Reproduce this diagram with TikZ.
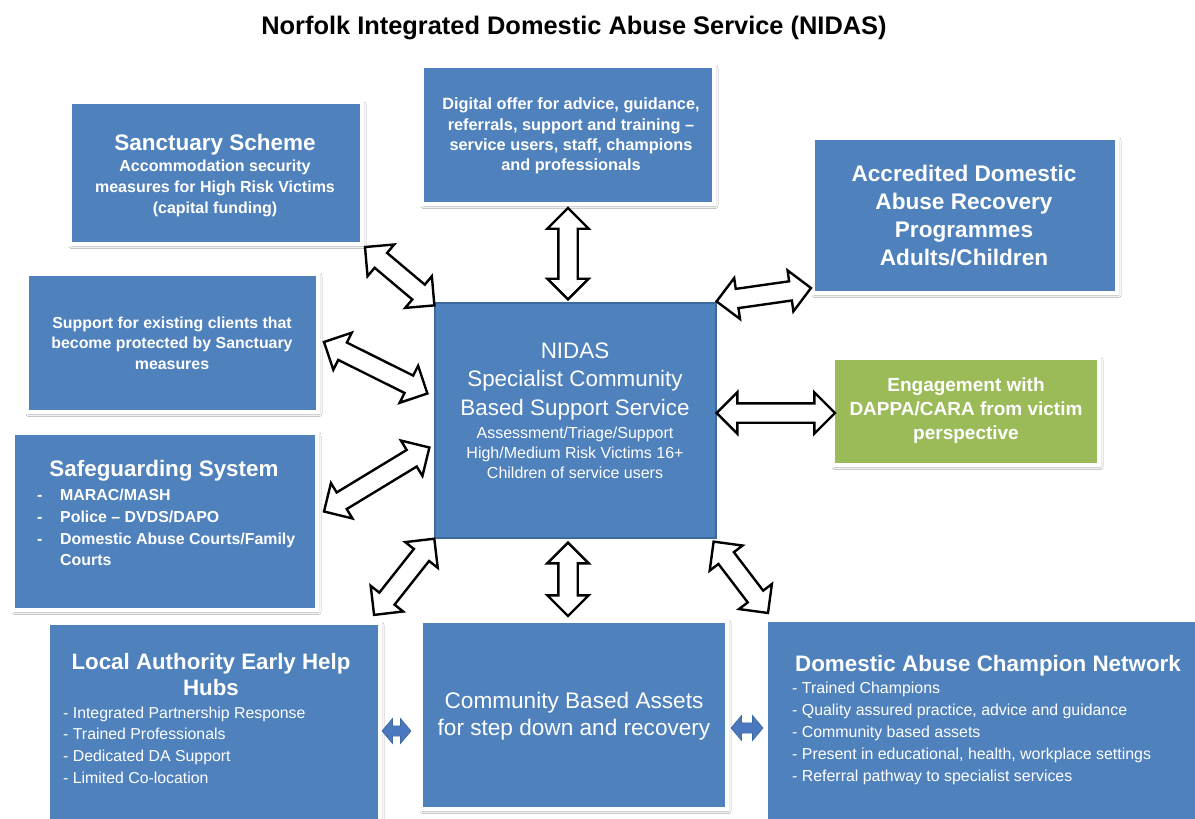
\documentclass[tikz,border=0pt]{standalone}
\usepackage{fontspec}
\setmainfont{Liberation Sans}
\usetikzlibrary{shapes.arrows,shadows.blur,calc,positioning}
\definecolor{nidasblue}{HTML}{4F81BD}
\definecolor{nidasgreen}{HTML}{9BBB59}
\definecolor{nidasedge}{HTML}{3C6A9C}
\definecolor{smallarrow}{HTML}{4A78BE}
\newcommand\fsz[2]{\fontsize{#1pt}{#2pt}\selectfont}

\begin{document}
\begin{tikzpicture}[x=1pt,y=-1pt]
\tikzstyle{panel}=[rectangle, draw=white, line width=4pt, fill=nidasblue, inner sep=0pt,
  blur shadow={shadow xshift=1.5pt, shadow yshift=-2pt, shadow blur radius=2.5pt,
  shadow blur steps=6, shadow opacity=30}]
\tikzstyle{txt}=[text=white, align=center, inner sep=0pt]
\tikzstyle{link}=[double arrow, draw=black, fill=white, line width=2.4pt, inner sep=0pt,
  inner ysep=8.5pt, double arrow head extend=11pt, double arrow tip angle=90]
\tikzstyle{small link}=[double arrow, draw=nidasedge, fill=smallarrow, line width=0.6pt,
  inner sep=0pt, inner ysep=4.5pt, double arrow head extend=7pt, double arrow tip angle=100]

\useasboundingbox (0,0) rectangle (1195,819);
\fill[white] (0,0) rectangle (1195,819);
\clip (0,0) rectangle (1195,819);

% Title
\node[inner sep=0pt, font=\bfseries\fsz{25.4}{30}] (title) at (574,28)
  {Norfolk Integrated Domestic Abuse Service (NIDAS)};

% Draw the panels (fill edges as in the picture)
\foreach \name/\xa/\ya/\xb/\yb/\col in {sanct/72/104/360/242/nidasblue,
    digital/424/68/712/202/nidasblue, accred/815/140/1115/291/nidasblue,
    support/29/276/316/410/nidasblue, engage/835/360/1097/463/nidasgreen,
    safeg/15/435/315/608/nidasblue, lahub/50/625/378/830/nidasblue,
    commun/423/623/725/807/nidasblue, champ/768/622/1210/830/nidasblue}
{
  \pgfmathsetmacro\w{\xb-\xa+4}
  \pgfmathsetmacro\h{\yb-\ya+4}
  \node[panel, fill=\col, minimum width=\w pt, minimum height=\h pt] (P-\name)
    at ({(\xa+\xb)/2},{(\ya+\yb)/2}) {};
}

% Central service
\node[rectangle, draw=nidasedge, line width=1.2pt, fill=nidasblue, inner sep=0pt,
  minimum width=281pt, minimum height=235pt] (P-nidas) at (575.5,420.5) {};

% Write panel texts
\node[txt, font=\bfseries\fsz{22.5}{24}] (T-sanct) at (215,145) {Sanctuary Scheme};
\node[txt, font=\bfseries\fsz{16}{21}] (T-sanct-b) at (215,188)
  {Accommodation security\\measures for High Risk Victims\\(capital funding)};
\node[txt, font=\bfseries\fsz{16.3}{20.3}] (T-digital) at (571,136)
  {Digital offer for advice, guidance,\\referrals, support and training --\\service users, staff, champions\\and professionals};
\node[txt, font=\bfseries\fsz{22.6}{28}] (T-accred) at (964,216)
  {Accredited Domestic\\Abuse Recovery\\Programmes\\Adults/Children};
\node[txt, font=\bfseries\fsz{15.9}{20.5}] (T-support) at (172,343)
  {Support for existing clients that\\become protected by Sanctuary\\measures};
\node[txt, font=\fsz{22.4}{28.5}] (T-nidas) at (575,381.5)
  {NIDAS\\Specialist Community\\Based Support Service};
\node[txt, font=\fsz{16}{20}] (T-nidas-b) at (575,453)
  {Assessment/Triage/Support\\High/Medium Risk Victims 16+\\Children of service users};
\node[txt, font=\bfseries\fsz{19}{24}] (T-engage) at (966,411)
  {Engagement with\\DAPPA/CARA from victim\\perspective};
\node[txt, font=\bfseries\fsz{22.4}{26}] (T-safeg) at (164,471) {Safeguarding System};
\node[txt, align=left, anchor=west, font=\bfseries\fsz{15.9}{21.7}] (T-safeg-b) at (37,527.5)
  {\makebox[23pt][l]{-}MARAC/MASH\\\makebox[23pt][l]{-}Police -- DVDS/DAPO\\
   \makebox[23pt][l]{-}Domestic Abuse Courts/Family\\\makebox[23pt][l]{}Courts};
\node[txt, font=\bfseries\fsz{22.3}{26}] (T-lahub) at (211,675)
  {Local Authority Early Help\\Hubs};
\node[txt, align=left, anchor=west, font=\fsz{15.85}{21.7}] (T-lahub-b) at (63,745)
  {- Integrated Partnership Response\\- Trained Professionals\\- Dedicated DA Support\\- Limited Co-location};
\node[txt, font=\fsz{22.6}{27}] (T-commun) at (574,716.5)
  {Community Based Assets\\for step down and recovery};
\node[txt, font=\bfseries\fsz{22.4}{26}] (T-champ) at (988,666)
  {Domestic Abuse Champion Network};
\node[txt, align=left, anchor=west, font=\fsz{15.9}{22}] (T-champ-b) at (792,733)
  {- Trained Champions\\- Quality assured practice, advice and guidance\\- Community based assets\\- Present in educational, health, workplace settings\\- Referral pathway to specialist services};

% Arrow ends, next to the panels
\coordinate (E1-a) at ($(P-digital.south)+(0,2)$);
\coordinate (E1-b) at ($(P-nidas.north)+(-7.5,-3)$);
\coordinate (E2-a) at ($(P-sanct.south east)+(1,1)$);
\coordinate (E2-b) at ($(P-nidas.north west)+(0,3)$);
\coordinate (E3-a) at ($(P-support.east)+(4,-1)$);
\coordinate (E3-b) at ($(P-nidas.west)+(-7,-27)$);
\coordinate (E4-a) at ($(P-safeg.east)+(5,-10)$);
\coordinate (E4-b) at ($(P-nidas.west)+(-5,27)$);
\coordinate (E5-a) at ($(P-nidas.north east)+(0,-1)$);
\coordinate (E5-b) at ($(P-accred.south west)+(0,-7)$);
\coordinate (E6-a) at ($(P-nidas.east)+(0,-7.5)$);
\coordinate (E6-b) at ($(P-engage.west)+(4,1.5)$);
\coordinate (E7-a) at ($(P-lahub.north east)+(-8,-6)$);
\coordinate (E7-b) at (P-nidas.south west);
\coordinate (E8-a) at ($(P-nidas.south)+(-7.5,4)$);
\coordinate (E8-b) at ($(P-commun.north)+(-6,-3)$);
\coordinate (E9-a) at ($(P-nidas.south east)+(-3,3)$);
\coordinate (E9-b) at ($(P-champ.north west)+(4,-5)$);
\coordinate (S1-a) at ($(P-lahub.east)+(0,3.5)$);
\coordinate (S1-b) at ($(P-commun.west)+(-8,16)$);
\coordinate (S2-a) at ($(P-commun.east)+(2,13)$);
\coordinate (S2-b) at ($(P-champ.west)+(-1,2)$);

% Connect the centre with every panel
\foreach \i in {1,...,9}
\path let \p1=($(E\i-b)-(E\i-a)$) in
  node[link, rotate={atan2(\y1,\x1)}, minimum height={veclen(\x1,\y1)}, minimum width=41pt]
  (A-\i) at ($(E\i-a)!0.5!(E\i-b)$) {};

\foreach \i in {1,2}
\path let \p1=($(S\i-b)-(S\i-a)$) in
  node[small link, rotate={atan2(\y1,\x1)}, minimum height={veclen(\x1,\y1)}, minimum width=25pt]
  (B-\i) at ($(S\i-a)!0.5!(S\i-b)$) {};

\end{tikzpicture}
\end{document}
